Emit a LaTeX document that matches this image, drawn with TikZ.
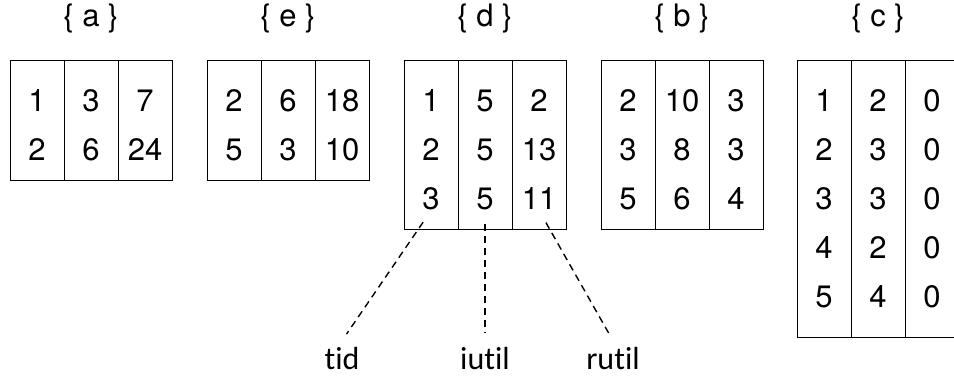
\documentclass[tikz,border=0pt]{standalone}
\usepackage{fontspec}
\setmainfont{TeX Gyre Heros}
\newfontfamily\fieldfont[Ligatures=NoCommon]{Carlito}
\begin{document}
\begin{tikzpicture}[x=0.5pt,y=-0.5pt,
    col/.style={draw,line width=0.7pt,minimum width=27pt,inner sep=0pt,anchor=north west},
    num/.style={font=\fontsize{15.5}{18}\selectfont,inner sep=0pt},
    title/.style={font=\fontsize{15.5}{18}\selectfont},
    field/.style={font=\fieldfont\fontsize{16}{19}\selectfont},
    link/.style={dash pattern=on 3.5pt off 2.5pt,line width=0.7pt}]
  \useasboundingbox (0,0) rectangle (954,379);
  \clip (0,0) rectangle (954,379);
  % each set: name / left edge / column height / entries column by column
  \foreach \t/\x/\h/\cols in {
      a/10/120/{{1,2},{3,6},{7,24}},
      e/207/120/{{2,5},{6,3},{18,10}},
      d/404/169/{{1,2,3},{5,5,5},{2,13,11}},
      b/601/169/{{2,3,5},{10,8,6},{3,3,4}},
      c/797/277/{{1,2,3,4,5},{2,3,3,2,4},{0,0,0,0,0}}} {
    \node[title] (\t-title) at ({\x+81},18) {\{ \t\ \}};
    \foreach \c [count=\i] in \cols {
      \node[col,minimum height=\h*0.5pt] (\t-\i) at ({\x+54*(\i-1)},60) {};
      \foreach \v [count=\j] in \c
        \node[num] (\t-\i-\j) at ({\x+27+54*(\i-1)},{101+49*(\j-1)}) {\v};
    }
  }
  % fields of d
  \node[field] (tid) at (342,359) {tid};
  \node[field] (iutil) at (485,359) {iutil};
  \node[field] (rutil) at (613,359) {rutil};
  \draw[link,shorten <=7pt,shorten >=4pt] (d-1-3.south) -- (tid.north);
  \draw[link,shorten <=7pt,shorten >=4pt] (d-2-3.south) -- (iutil.north);
  \draw[link,shorten <=7pt,shorten >=4pt] (d-3-3.south) -- (rutil.north);
\end{tikzpicture}
\end{document}
